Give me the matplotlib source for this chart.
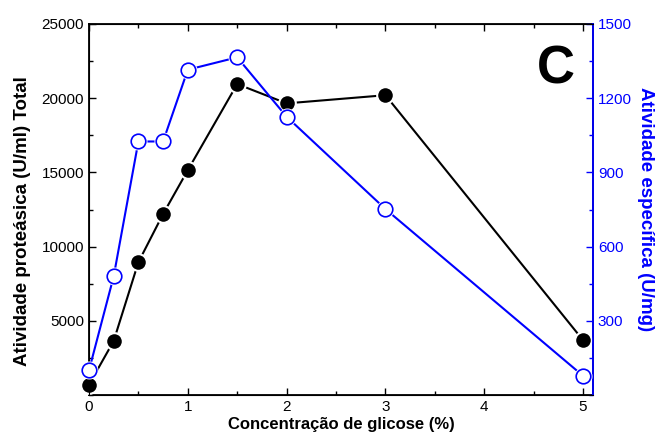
import matplotlib
matplotlib.use('Agg')
from matplotlib import pyplot as plt
from matplotlib.ticker import MultipleLocator

plt.rcParams['font.family'] = ['Liberation Sans', 'DejaVu Sans']

glicose = [0, 0.25, 0.5, 0.75, 1, 1.5, 2, 3, 5]
atividade_total = [700, 3650, 8950, 12200, 15150, 20950, 19650, 20200, 3700]
atividade_especifica = [100, 480, 1025, 1025, 1315, 1365, 1125, 752, 78]

fig = plt.figure(figsize=(6.64, 4.43), dpi=100)
ax = fig.add_axes([0.134, 0.108, 0.759, 0.838])

# proteolytic activity (black, filled)
ax.plot(glicose, atividade_total, color='black', lw=1.5, zorder=2)
ax.plot(glicose, atividade_total, 'o', color='black', ms=12,
        mec='white', mew=1.5, zorder=3, clip_on=False)

ax.set_xlim(0, 5.1)
ax.set_ylim(0, 25000)
ax.set_yticks([5000, 10000, 15000, 20000, 25000])
ax.yaxis.set_minor_locator(MultipleLocator(2500))
ax.xaxis.set_major_locator(MultipleLocator(1))
ax.xaxis.set_minor_locator(MultipleLocator(0.5))
ax.tick_params(which='both', direction='in', top=True, right=False, labelsize=11)
ax.tick_params(which='major', length=5, width=1)
ax.tick_params(which='minor', length=3, width=1)
for s in ax.spines.values():
    s.set_linewidth(1.3)

ax.set_xlabel('Concentração de glicose (%)', fontsize=12, fontweight='bold', labelpad=2)
ax.set_ylabel('Atividade proteásica (U/ml) Total', fontsize=13.5, fontweight='bold')
ax.yaxis.set_label_coords(-0.115, 0.47)

# specific activity (blue, open)
ax2 = ax.twinx()
ax2.plot(glicose, atividade_especifica, color='blue', lw=1.5, zorder=2)
ax2.plot(glicose, atividade_especifica, 'o', color='white', ms=13, mew=0, zorder=3, clip_on=False)
ax2.plot(glicose, atividade_especifica, 'o', mfc='white', mec='blue', ms=10.5, mew=1.2,
         zorder=4, clip_on=False)
ax2.set_ylim(0, 1500)
ax2.set_yticks([300, 600, 900, 1200, 1500])
ax2.yaxis.set_minor_locator(MultipleLocator(150))
ax2.tick_params(which='both', direction='in', colors='blue', labelsize=11)
ax2.tick_params(which='major', length=5, width=1)
ax2.tick_params(which='minor', length=3, width=1)
ax2.spines['right'].set_color('blue')
ax2.spines['right'].set_linewidth(1.3)
ax2.set_ylabel('Atividade específica (U/mg)', fontsize=13.5, fontweight='bold',
               color='blue', rotation=270, labelpad=16)

ax.text(0.927, 0.876, 'C', transform=ax.transAxes, fontsize=38, fontweight='bold',
        ha='center', va='center')

plt.savefig('out.png', dpi=100)
